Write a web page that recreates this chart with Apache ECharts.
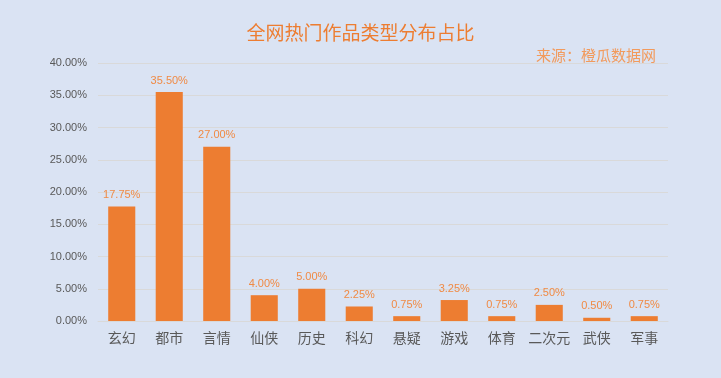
<!DOCTYPE html>
<html><head><meta charset="utf-8">
<script src="https://cdn.jsdelivr.net/npm/echarts@6/dist/echarts.min.js"></script>
<style>html,body{margin:0;padding:0;background:#dae3f3;}#c{width:721px;height:378px;}</style>
</head><body><div id="c"></div>
<script>
const categories = ['玄幻','都市','言情','仙侠','历史','科幻','悬疑','游戏','体育','二次元','武侠','军事'];
const values = [17.75,35.5,27.0,4.0,5.0,2.25,0.75,3.25,0.75,2.5,0.5,0.75];
const titleText = '全网热门作品类型分布占比';
const sourceText = '来源：橙瓜数据网';
const chart = echarts.init(document.getElementById('c'));
chart.setOption({
  backgroundColor: '#dae3f3',
  textStyle: {fontFamily: '"Noto Sans CJK SC", "Noto Sans", sans-serif'},
  title: [
    {text: titleText, left: 'center', top: 18, textStyle: {color: '#ed7d31', fontSize: 19, fontWeight: 'normal'}},
    {text: sourceText, left: 531, top: 43, textStyle: {color: '#f29a5c', fontSize: 15, fontWeight: 'normal'}}
  ],
  grid: {left: 98, right: 53, top: 63, bottom: 57, containLabel: false},
  xAxis: {type: 'category', data: categories,
    axisLine: {lineStyle: {color: '#d9d9d9'}}, axisTick: {show: false},
    axisLabel: {color: '#595959', fontSize: 14, margin: 10, interval: 0}},
  yAxis: {type: 'value', min: 0, max: 40, interval: 5,
    axisLine: {show: false}, axisTick: {show: false},
    splitLine: {lineStyle: {color: '#d9d9d9'}},
    axisLabel: {color: '#595959', fontSize: 11, margin: 11, formatter: v => v.toFixed(2) + '%',
      fontFamily: '"Liberation Sans", sans-serif'}},
  series: [{type: 'bar', data: values, barWidth: '57%',
    itemStyle: {color: '#ed7d31'},
    label: {show: true, position: 'top', color: '#f08a44', fontSize: 11, distance: 6,
      fontFamily: '"Liberation Sans", sans-serif',
      formatter: p => p.value.toFixed(2) + '%'}}]
});
</script></body></html>
